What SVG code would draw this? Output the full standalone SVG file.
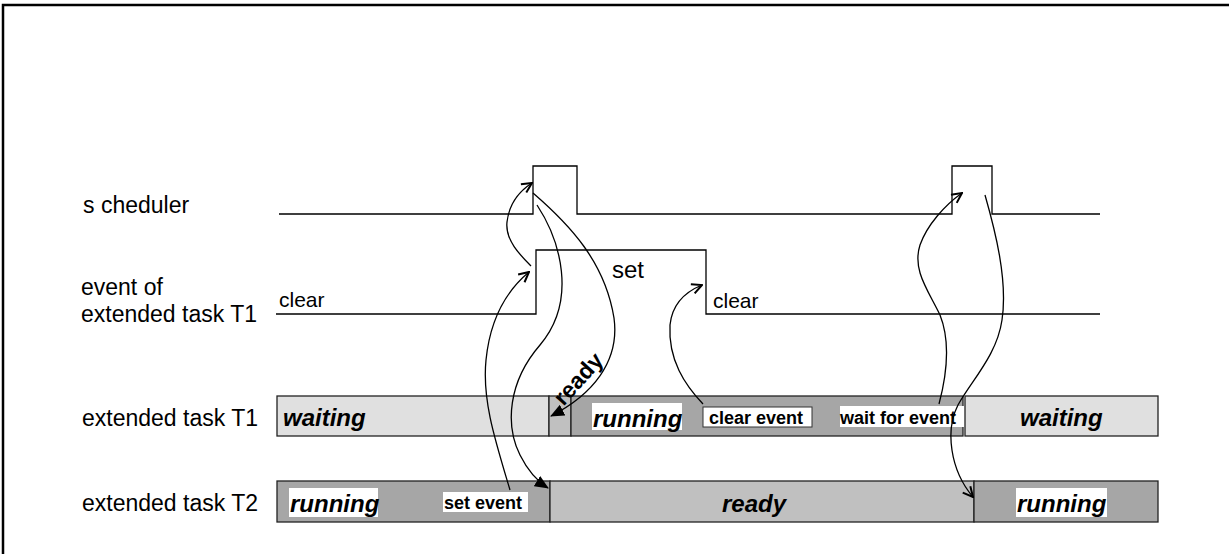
<svg xmlns="http://www.w3.org/2000/svg" width="1229" height="554" viewBox="0 0 1229 554">
<style>
.lbl{font-family:"Liberation Sans",Arial,sans-serif;font-size:23px;fill:#000}
.sig{font-family:"Liberation Sans",Arial,sans-serif;font-size:21px;fill:#000}
.st{font-family:"Liberation Sans",Arial,sans-serif;font-size:24px;font-weight:bold;font-style:italic;fill:#000}
.sm{font-family:"Liberation Sans",Arial,sans-serif;font-size:18px;font-weight:bold;fill:#000}
.wave{fill:none;stroke:#000;stroke-width:1.3}
.bar{stroke:#222;stroke-width:1.3}
.light{fill:#e0e0e0}.mid{fill:#c0c0c0}.dark{fill:#a6a6a6}
.wb{fill:#fff}
.c{fill:none;stroke:#000;stroke-width:1.3}
</style>
<defs>
<marker id="open" viewBox="0 0 12 12" refX="11" refY="6" markerWidth="12" markerHeight="12" markerUnits="userSpaceOnUse" orient="auto">
<path d="M1,1 L11,6 L1,11" fill="none" stroke="#000" stroke-width="2"/>
</marker>
<marker id="fill" viewBox="0 0 14 12" refX="13" refY="6" markerWidth="14" markerHeight="12" markerUnits="userSpaceOnUse" orient="auto">
<path d="M0,0 L14,6 L0,12 z" fill="#000"/>
</marker>
</defs>
<rect x="3" y="5" width="1300" height="600" fill="#fff" stroke="#000" stroke-width="2.5"/>

<g id="scheduler">
<text class="lbl" x="83" y="213">s cheduler</text>
<polyline class="wave" points="279,214 533,214 533,166 577,166 577,214 952,214 952,166 992,166 992,214 1100,214"/>
</g>

<g id="event">
<text class="lbl" x="81" y="295">event of</text>
<text class="lbl" x="81" y="322">extended task T1</text>
<polyline class="wave" points="276,314 536,314 536,250 706,250 706,314 1100,314"/>
<text class="sig" x="279" y="307">clear</text>
<text class="sig" x="612" y="278" style="font-size:24px">set</text>
<text class="sig" x="713" y="308">clear</text>
</g>

<g id="task-t1">
<text class="lbl" x="82" y="426">extended task T1</text>
<rect class="bar light" x="277" y="396" width="272" height="40"/>
<rect class="bar mid" x="549" y="396" width="22" height="40"/>
<rect class="bar dark" x="571" y="396" width="392" height="40"/>
<rect class="bar light" x="965" y="396" width="193" height="40"/>
<text class="st" x="283" y="426">waiting</text>
<rect class="wb" x="592" y="403" width="90" height="27"/>
<text class="st" x="593" y="427">running</text>
<rect class="wb" x="703" y="407" width="109" height="20" stroke="#333" stroke-width="1"/>
<text class="sm" x="709" y="424">clear event</text>
<rect class="wb" x="840" y="406" width="124" height="21"/>
<text class="sm" x="840" y="424">wait for event</text>
<text class="st" x="1020" y="426">waiting</text>
</g>

<g id="task-t2">
<text class="lbl" x="82" y="511">extended task T2</text>
<rect class="bar dark" x="277" y="481" width="273" height="41"/>
<rect class="bar mid" x="550" y="481" width="424" height="41"/>
<rect class="bar dark" x="974" y="481" width="184" height="41"/>
<rect class="wb" x="289" y="488" width="89" height="29"/>
<text class="st" x="290" y="512">running</text>
<rect class="wb" x="443" y="492" width="85" height="20"/>
<text class="sm" x="444" y="509">set event</text>
<text class="st" x="722" y="512">ready</text>
<rect class="wb" x="1016" y="488" width="91" height="29"/>
<text class="st" x="1017" y="512">running</text>
</g>

<g id="connectors">
<path class="c" d="M510,490 C495,440 482,400 486,360 C490,320 505,292 529,272" marker-end="url(#open)"/>
<path class="c" d="M531,266 C520,255 505,240 507,222 C509,205 518,192 532,183" marker-end="url(#open)"/>
<path class="c" d="M533,193 C570,225 605,262 614,318 C620,362 592,395 551,416" marker-end="url(#fill)"/>
<path class="c" d="M537,205 C560,240 578,300 540,345 C508,382 505,425 520,455 C530,475 540,483 548,488" marker-end="url(#fill)"/>
<path class="c" d="M703,404 C685,385 668,360 670,325 C672,305 685,292 702,285" marker-end="url(#open)"/>
<path class="c" d="M939,404 C948,370 950,340 940,315 C928,290 912,270 920,245 C927,225 945,205 962,193" marker-end="url(#open)"/>
<path class="c" d="M985,195 C995,230 1008,280 1002,320 C997,355 972,380 958,405 C945,430 950,470 973,497" marker-end="url(#open)"/>
<text class="sm" style="font-size:23px" transform="translate(584,384) rotate(-48)" text-anchor="middle">ready</text>
</g>
</svg>
